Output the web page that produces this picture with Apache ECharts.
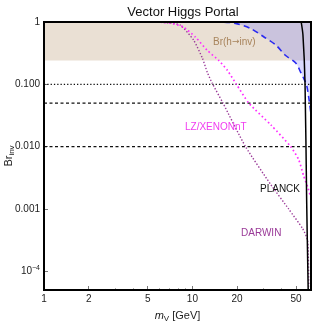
<!DOCTYPE html>
<html><head><meta charset="utf-8">
<script src="https://cdn.jsdelivr.net/npm/echarts@6/dist/echarts.min.js"></script>
<style>html,body{margin:0;padding:0;background:#fff}#c{width:316px;height:321px}</style>
</head><body><div id="c"></div>
<script>
// ---- data ----
const xTicks = [1, 2, 5, 10, 20, 50];
const xMinorTicks = [3, 4, 6, 7, 8, 9, 30, 40, 60];
const yTicks = [1e-4, 1e-3, 1e-2, 0.1, 1];
const xRange = [1, 63];
const yRange = [5e-5, 1];
const brInvBand = [0.24, 1];
const refDotted = [0.1];
const refDashed = [0.05, 0.01];

const vectorMass = [12, 15.5, 19.5, 24.6, 30.2, 36.4, 42.5, 49.7, 53.7, 56.2, 58.9, 60.8, 62.7, 63];
const vectorBr   = [1, 1, 0.95, 0.79, 0.58, 0.43, 0.29, 0.22, 0.156, 0.125, 0.096, 0.062, 0.036, 0.031];

const planckMass = [54.1, 55.6, 57.4, 58.9, 60.3];
const planckBr   = [1, 0.617, 0.108, 0.00135, 5e-5];

const lzMass = [6.1, 7.1, 8.7, 10.5, 12.6, 15.0, 17.2, 19.8, 24.0, 34.0, 46.0, 52.0, 56.2, 60.0, 62.5];
const lzBr   = [0.99, 0.96, 0.83, 0.57, 0.35, 0.244, 0.168, 0.1, 0.05, 0.022, 0.01, 0.0062, 0.0034, 0.0022, 0.0016];

const darwinMass = [6.1, 7.1, 8.3, 10.2, 11.7, 12.6, 13.6, 16.0, 22.8, 33.6, 44.5, 55.4, 59.8, 60.8];
const darwinBr   = [0.99, 0.96, 0.89, 0.51, 0.26, 0.156, 0.104, 0.051, 0.01, 0.0025, 0.001, 0.00048, 0.00031, 5.7e-5];

const zip = (a, b) => a.map((v, i) => [v, b[i]]);
const hline = v => [[xRange[0], v], [xRange[1], v]];

const FONT = 'Liberation Sans, Arial, sans-serif';
const chart = echarts.init(document.getElementById('c'), null, {renderer: 'canvas'});

const series = [
  { type: 'line', data: [], z: 1, silent: true,
    markArea: { silent: true, itemStyle: { color: '#eae0d4' },
      data: [[{ yAxis: brInvBand[0] }, { yAxis: brInvBand[1] }]] } },
  { type: 'line', data: zip(vectorMass, vectorBr), z: 3, symbol: 'none', smooth: 0.3,
    lineStyle: { color: '#2a2af0', width: 1.6, type: [6, 4] },
    areaStyle: { origin: 'end', color: 'rgba(95,95,255,0.32)' } },
];
refDotted.forEach(v => series.push({ type: 'line', data: hline(v), symbol: 'none', z: 4,
  lineStyle: { color: '#111', width: 1.2, type: [1.3, 2] } }));
refDashed.forEach(v => series.push({ type: 'line', data: hline(v), symbol: 'none', z: 4,
  lineStyle: { color: '#111', width: 1.2, type: [3, 2.5] } }));
series.push(
  { type: 'line', data: zip(darwinMass, darwinBr), symbol: 'none', smooth: 0.2, z: 5,
    lineStyle: { color: '#9a3a98', width: 1.4, type: [1.4, 1.8] } },
  { type: 'line', data: zip(lzMass, lzBr), symbol: 'none', smooth: 0.2, z: 6,
    lineStyle: { color: '#ff2cff', width: 1.7, type: [1.6, 2.6] } },
  { type: 'line', data: zip(planckMass, planckBr), symbol: 'none', smooth: 0.3, z: 7,
    lineStyle: { color: '#000', width: 1.5 } }
);

const yLabel = v => {
  if (Math.abs(v - 1) < 1e-9) return '1';
  if (Math.abs(v - 0.1) < 1e-9) return '0.100';
  if (Math.abs(v - 0.01) < 1e-9) return '0.010';
  if (Math.abs(v - 0.001) < 1e-9) return '0.001';
  return '10{sup|\u22124}';
};

chart.setOption({
  animation: false,
  backgroundColor: '#fff',
  title: { text: 'Vector Higgs Portal', left: 178, top: 1, textAlign: 'center',
    textStyle: { fontFamily: FONT, fontSize: 13, fontWeight: 'normal', color: '#111' } },
  grid: { left: 44, right: 5, top: 22, bottom: 31, outerBoundsMode: 'none', containLabel: false,
    show: true, borderColor: '#000', borderWidth: 2, backgroundColor: 'transparent', z: 10 },
  xAxis: [{
    type: 'log', min: xRange[0], max: xRange[1], logBase: 10,
    name: '{it|m}{sub|V} [GeV]', nameLocation: 'middle', nameGap: 19, nameMoveOverlap: false,
    nameTextStyle: { fontFamily: FONT, fontSize: 11, color: '#222',
      rich: { it: { fontStyle: 'italic', fontFamily: FONT, fontSize: 11, color: '#222' },
              sub: { fontSize: 8, fontFamily: FONT, color: '#222', padding: [6, 0, 0, 0] } } },
    axisLine: { show: true, lineStyle: { color: '#000', width: 2 } },
    axisTick: { show: true, inside: true, length: 4, customValues: xTicks, lineStyle: { color: '#555', width: 0.8 } },
    axisLabel: { customValues: xTicks, margin: 4, fontFamily: FONT, fontSize: 10, color: '#222',
      formatter: v => String(Math.round(v)) },
    splitLine: { show: false }
  }, {
    type: 'log', min: xRange[0], max: xRange[1], logBase: 10, position: 'bottom',
    axisLine: { show: false },
    axisTick: { show: true, inside: true, length: 2, customValues: xMinorTicks, lineStyle: { color: '#777', width: 0.6 } },
    axisLabel: { show: false }, splitLine: { show: false }
  }],
  yAxis: {
    type: 'log', min: yRange[0], max: yRange[1], logBase: 10,
    name: 'Br{sub|inv}', nameLocation: 'middle', nameGap: 28, nameRotate: 90, nameMoveOverlap: false,
    nameTextStyle: { fontFamily: FONT, fontSize: 11, color: '#222',
      rich: { sub: { fontSize: 8, fontFamily: FONT, color: '#222', padding: [6, 0, 0, 0] } } },
    axisLine: { show: true, lineStyle: { color: '#000', width: 2 } },
    axisTick: { show: true, inside: true, length: 4, customValues: yTicks, lineStyle: { color: '#555', width: 0.8 } },
    axisLabel: { customValues: yTicks, margin: 4, fontFamily: FONT, fontSize: 10, color: '#222',
      formatter: yLabel,
      rich: { sup: { fontSize: 7, fontFamily: FONT, color: '#222', padding: [0, 0, 7, 0] } } },
    splitLine: { show: false }
  },
  graphic: [
    { type: 'text', left: 213, top: 37, z: 20, style: {
      text: 'Br(h{ar|\u2192}inv)', font: '10px ' + FONT, fill: '#a8845c',
      rich: { ar: { fontFamily: 'DejaVu Sans', fontSize: 9, fill: '#a8845c' } } } },
    { type: 'text', left: 185, top: 122, z: 20, style: { text: 'LZ/XENONnT', font: '10px ' + FONT, fill: '#f03cf0' } },
    { type: 'text', left: 260, top: 184, z: 20, style: { text: 'PLANCK', font: '10px ' + FONT, fill: '#111' } },
    { type: 'text', left: 241, top: 228, z: 20, style: { text: 'DARWIN', font: '10px ' + FONT, fill: '#9a3a98' } }
  ],
  series: series
});
</script></body></html>
